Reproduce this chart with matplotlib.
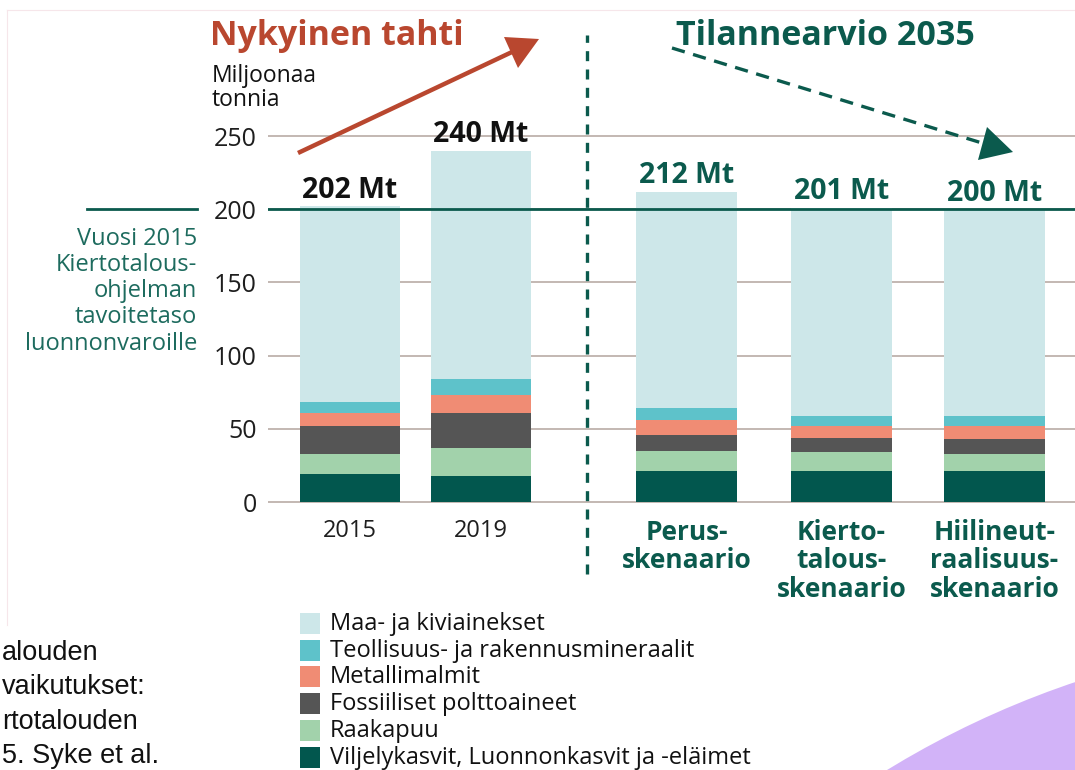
import matplotlib.pyplot as plt
from matplotlib.patches import Rectangle, Polygon, Circle
from matplotlib.lines import Line2D

plt.rcParams['font.family'] = ['Open Sans', 'DejaVu Sans']

# data (million tonnes)
groups = ['2015', '2019', 'Perus-\nskenaario', 'Kierto-\ntalous-\nskenaario',
          'Hiilineut-\nraalisuus-\nskenaario']
totals = [202, 240, 212, 201, 200]
viljely = [19, 18, 21, 21, 21]
raakapuu = [14, 19, 14, 13, 12]
fossiili = [19, 24, 11, 10, 10]
metalli = [9, 12, 10, 8, 9]
teollisuus = [7, 11, 8, 7, 7]
maa = [134, 156, 148, 142, 141]
series_names = ['Viljelykasvit, Luonnonkasvit ja -eläimet', 'Raakapuu',
                'Fossiiliset polttoaineet', 'Metallimalmit',
                'Teollisuus- ja rakennusmineraalit', 'Maa- ja kiviainekset']
target = 200
yticks = [0, 50, 100, 150, 200, 250]

series = [viljely, raakapuu, fossiili, metalli, teollisuus, maa]
colors = ['#02574e', '#a2d2ab', '#555555', '#f08c74', '#5ec2ca', '#cde7e9']
teal = '#0b5a4d'
red = '#b9472f'

x = [0, 1, 2.57, 3.75, 4.92]

W, H = 1075, 770
fig = plt.figure(figsize=(W / 100, H / 100), dpi=100)

# helpers: image pixel coords -> figure fraction / inches
def ff(px, py):
    return px / W, (H - py) / H

def inch(px, py):
    return px / 100, (H - py) / 100

ppu = 1.464   # pixels per unit
y0 = 502      # pixel row of zero
ax_left, ax_right = 268, 1075
ax_bot = y0 + 1 * ppu
ax_top = y0 - 251 * ppu
ax = fig.add_axes([ax_left / W, (H - ax_bot) / H, (ax_right - ax_left) / W,
                   (ax_bot - ax_top) / H])

bottom = [0] * len(x)
for vals, c in zip(series, colors):
    ax.bar(x, vals, 0.77, bottom=bottom, color=c, zorder=2, linewidth=0)
    bottom = [b + v for b, v in zip(bottom, vals)]

ax.set_ylim(-1, 251)
ax.set_xlim((ax_left - 350) / 131, (ax_right - 350) / 131)
ax.set_yticks(yticks)
ax.yaxis.grid(True, color='#b9aba6', lw=1.2)
ax.set_axisbelow(True)
for s in ax.spines.values():
    s.set_visible(False)
ax.tick_params(axis='y', length=0, pad=8, labelsize=18, labelcolor='#1e1e1e')
ax.set_xticks(x, groups)
ax.tick_params(axis='x', length=0, pad=11, labelsize=17)
for i, lab in enumerate(ax.get_xticklabels()):
    if i < 2:
        lab.set_color('#1e1e1e')
    else:
        lab.set_color(teal)
        lab.set_fontweight('bold')
        lab.set_fontsize(19)
        lab.set_linespacing(1.08)

# target line
ax.axhline(target, color=teal, lw=2.0, zorder=3)
ax.axhline(target, xmin=(87 - ax_left) / (ax_right - ax_left),
           xmax=(197 - ax_left) / (ax_right - ax_left), color=teal, lw=2.0,
           clip_on=False)

# separator
ax.axvline((587 - 350) / 131, ymin=-0.19, ymax=1.27, color=teal, lw=2.4,
           linestyle=(0, (3, 2.5)), clip_on=False)

# totals
for i, (xi, t) in enumerate(zip(x, totals)):
    ax.annotate(f'{t} Mt', (xi, t), xytext=(0, 1), textcoords='offset points',
                ha='center', va='bottom', fontsize=20.5, fontweight='bold',
                color='#111111' if i < 2 else teal)

# titles and side texts
fig.text(*ff(210, 45), 'Nykyinen tahti', fontsize=24.5, fontweight='bold',
         color=red, va='baseline')
fig.text(*ff(676, 45), 'Tilannearvio 2035', fontsize=24.5, fontweight='bold',
         color=teal, va='baseline')
fig.text(*ff(212, 64), 'Miljoonaa\ntonnia', fontsize=16.5, color='#111111',
         va='top', linespacing=0.98)
fig.text(*ff(197, 227), 'Vuosi 2015\nKiertotalous-\nohjelman\ntavoitetaso\nluonnonvaroille',
         fontsize=17, color='#1d6b5e', va='top', ha='right', multialignment='right',
         linespacing=1.12)
fig.text(*ff(2, 640), 'alouden\nvaikutukset:\nrtotalouden\n5. Syke et al.',
         fontsize=19.5, family='Liberation Sans', color='#111111', va='top',
         linespacing=1.42)

# arrows
fig.add_artist(Line2D(*zip(inch(298, 153), inch(512, 52)), transform=fig.dpi_scale_trans,
                      color=red, lw=3.2, solid_capstyle='butt'))
fig.add_artist(Polygon([inch(539, 39), inch(504, 37), inch(518, 68)],
                       transform=fig.dpi_scale_trans, color=red, lw=0))
fig.add_artist(Line2D(*zip(inch(672, 48), inch(982, 143)), transform=fig.dpi_scale_trans,
                      color=teal, lw=2.4, linestyle=(0, (4, 2.6))))
fig.add_artist(Polygon([inch(1013, 152), inch(987, 127), inch(978, 160)],
                       transform=fig.dpi_scale_trans, color=teal, lw=0))

# legend
for i, (name, c) in enumerate(zip(series_names[::-1], colors[::-1])):
    top = 613 + i * 26.7
    fig.add_artist(Rectangle(inch(300, top + 21), 0.20, 0.21,
                             transform=fig.dpi_scale_trans, color=c, lw=0))
    fig.text(*ff(330, top + 11), name, fontsize=17, color='#111111', va='center')

# frame and decoration
fig.add_artist(Line2D(*zip(inch(7, 10), inch(W, 10)), transform=fig.dpi_scale_trans,
                      color='#f6e6ea', lw=0.8))
fig.add_artist(Line2D(*zip(inch(7, 10), inch(7, 625)), transform=fig.dpi_scale_trans,
                      color='#f6e6ea', lw=0.8))
fig.add_artist(Circle(inch(1369, 1556), 9.22, transform=fig.dpi_scale_trans,
                      color='#d2b3f8', lw=0))

fig.savefig('out.png', dpi=100)
